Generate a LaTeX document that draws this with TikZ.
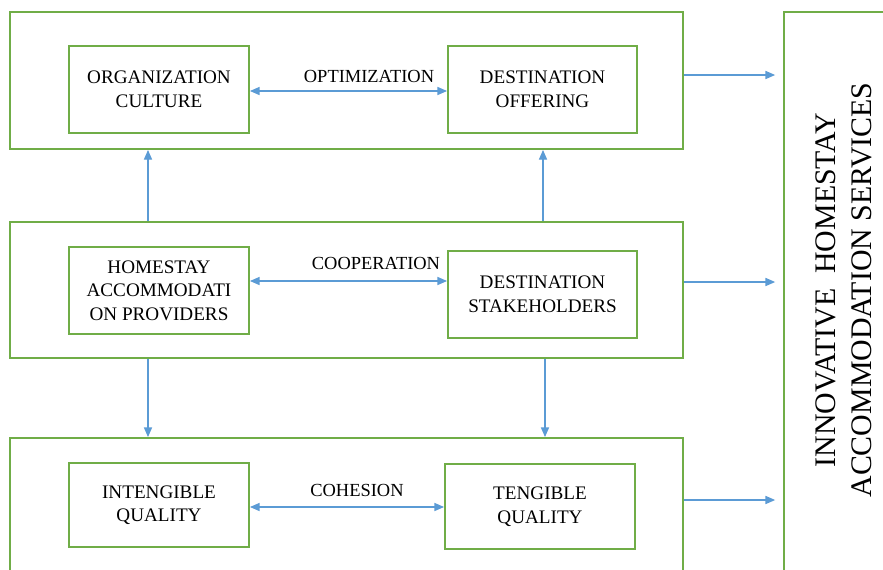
\documentclass[tikz,border=0pt]{standalone}
\usepackage{fontspec}
\setmainfont{Liberation Serif}
\usetikzlibrary{arrows.meta}
\definecolor{boxgreen}{RGB}{112,173,71}
\definecolor{arrowblue}{RGB}{91,155,213}

\begin{document}
\begin{tikzpicture}[x=0.02cm, y=-0.02cm, >={Triangle[length=5.5pt,width=4.6pt]},
    frame/.style={draw=boxgreen, line width=1.1pt, minimum width=13.46cm, inner sep=0pt},
    factor/.style={draw=boxgreen, line width=1.1pt, align=center, inner sep=0pt,
      font=\fontsize{10.9}{13.4}\selectfont},
    flow/.style={->, arrowblue, line width=0.7pt},
    link/.style={<->, arrowblue, line width=0.7pt},
    tag/.style={font=\fontsize{10.5}{12}\selectfont, inner sep=0pt}]
        % page is 883 x 569 px, y runs downwards
        \useasboundingbox (0,0) rectangle (883,569);
        \clip (0,0) rectangle (883,569);
        \fill[white] (0,0) rectangle (883,569);
        % three outer layers and the result box on the right
        \node[frame, minimum height=2.74cm] (top) at (346.5,80.5) {};
        \node[frame, minimum height=2.72cm] (mid) at (346.5,290) {};
        \node[frame, minimum height=2.74cm] (bot) at (346.5,506.5) {};
        \node[draw=boxgreen, line width=1.1pt, minimum width=2.6cm, minimum height=12cm,
          inner sep=0pt] (out) at (849,312) {};
        \node[rotate=90, align=center, font=\fontsize{17}{20.6}\selectfont] (outtext) at (844,290)
          {INNOVATIVE\ \ HOMESTAY\\ACCOMMODATION SERVICES};
        % inner factors
        \node[factor, minimum width=3.6cm, minimum height=1.74cm] (org) at (159,89.5) {ORGANIZATION\\CULTURE};
        \node[factor, minimum width=3.78cm, minimum height=1.74cm] (offer) at (542.5,89.5) {DESTINATION\\OFFERING};
        \node[factor, minimum width=3.6cm, minimum height=1.74cm] (host) at (159,290.5) {HOMESTAY\\ACCOMMODATI\\ON PROVIDERS};
        \node[factor, minimum width=3.78cm, minimum height=1.74cm] (stake) at (542.5,294.5) {DESTINATION\\STAKEHOLDERS};
        \node[factor, minimum width=3.6cm, minimum height=1.68cm] (intang) at (159,505) {INTENGIBLE\\QUALITY};
        \node[factor, minimum width=3.8cm, minimum height=1.7cm] (tang) at (540,506.5) {TENGIBLE\\QUALITY};
        % relations inside each layer
        \draw[link] (org.east |- 0,91) -- (offer.west |- 0,91);
        \node[tag] (optim) at (369,76) {OPTIMIZATION};
        \draw[link] (host.east |- 0,281) -- (stake.west |- 0,281);
        \node[tag] (coop) at (376,263) {COOPERATION};
        \draw[link] (intang.east |- 0,507) -- (tang.west |- 0,507);
        \node[tag] (cohes) at (357,490) {COHESION};
        % between layers
        \draw[flow] (mid.north -| 148,0) -- (top.south -| 148,0);
        \draw[flow] (mid.north -| 543,0) -- (top.south -| 543,0);
        \draw[flow] (mid.south -| 148,0) -- (bot.north -| 148,0);
        \draw[flow] (mid.south -| 545,0) -- (bot.north -| 545,0);
        % to the result
        \draw[flow, shorten >=4.5pt] (top.east |- 0,75) -- (out.west |- 0,75);
        \draw[flow, shorten >=4.5pt] (mid.east |- 0,282) -- (out.west |- 0,282);
        \draw[flow, shorten >=4.5pt] (bot.east |- 0,500) -- (out.west |- 0,500);
      \end{tikzpicture}
\end{document}
